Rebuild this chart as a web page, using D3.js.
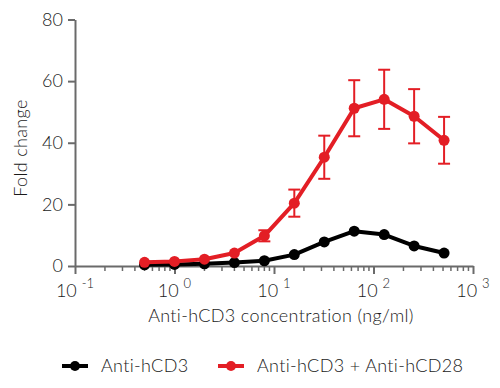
<!DOCTYPE html>
<html lang="en">
<head>
    <meta charset="UTF-8">
    <title>Fold change vs anti-hCD3</title>
    <script src="https://d3js.org/d3.v7.min.js"></script>
    <style>
        body { margin: 0; background: #fff; }
        svg text { font-family: Lato, "Open Sans", sans-serif; font-weight: 300; fill: #1a1a1a; }
        .title, .legend-text { font-size: 18px; letter-spacing: 0.35px; }
    </style>
</head>
<body>
<div id="chart"></div>

<script>
    // Concentrations (ng/ml) and measured fold change
    const concentrations = [0.5, 1, 2, 4, 8, 16, 32, 64, 128, 256, 512];
    const cd3Values = [0.4, 0.5, 0.7, 1.1, 1.7, 3.7, 7.8, 11.3, 10.2, 6.5, 4.2];
    const cd3cd28Values = [1.2, 1.5, 2.2, 4.2, 9.8, 20.4, 35.3, 51.2, 54.1, 48.6, 40.8];
    const cd3cd28Err = [0, 0, 0, 0, 1.8, 4.4, 7.0, 9.1, 9.6, 8.8, 7.6];
    const seriesNames = ["Anti-hCD3", "Anti-hCD3 + Anti-hCD28"];
    const yTicks = [0, 20, 40, 60, 80];
    const xExponents = [-1, 0, 1, 2, 3];

    const width = 500;
    const height = 388;
    const red = "#e31e25";
    const axisColor = "#6a6a6a";

    const svg = d3.select("#chart").append("svg")
        .attr("width", width)
        .attr("height", height);

    // Scales
    const x = d3.scaleLog().domain([0.1, 1000]).range([75, 473]);
    const y = d3.scaleLinear().domain([0, 80]).range([266, 19.5]);

    // Y axis
    const yAxis = svg.append("g")
        .attr("transform", "translate(75,0)")
        .call(d3.axisLeft(y).tickValues(yTicks).tickSize(7).tickPadding(5).tickSizeOuter(0));
    yAxis.select(".domain").attr("stroke", axisColor).attr("stroke-width", 2);
    yAxis.selectAll(".tick line").attr("stroke", axisColor).attr("stroke-width", 2);
    yAxis.selectAll(".tick text").style("font-size", "18px").attr("fill", "#1a1a1a");

    // X axis: major and minor ticks
    const minor = [];
    for (let e = -1; e < 3; e++) {
        for (let m = 2; m <= 9; m++) minor.push(m * Math.pow(10, e));
    }
    const xAxis = svg.append("g")
        .attr("transform", "translate(0,266)")
        .call(d3.axisBottom(x).tickValues(xExponents.map(e => Math.pow(10, e)))
            .tickSize(8).tickFormat("").tickSizeOuter(0));
    xAxis.select(".domain").attr("stroke", axisColor).attr("stroke-width", 2);
    xAxis.selectAll(".tick line").attr("stroke", axisColor).attr("stroke-width", 2);

    svg.append("g")
        .selectAll("line")
        .data(minor)
        .enter().append("line")
        .attr("x1", d => x(d)).attr("x2", d => x(d))
        .attr("y1", 266).attr("y2", 271)
        .attr("stroke", axisColor)
        .attr("stroke-width", 1.5);

    // Power-of-ten labels
    const labels = svg.append("g")
        .selectAll("text")
        .data(xExponents)
        .enter().append("text")
        .attr("x", d => x(Math.pow(10, d)))
        .attr("y", 297)
        .attr("text-anchor", "middle")
        .style("font-size", "18px");
    labels.append("tspan").text("10 ");
    labels.append("tspan")
        .attr("dy", -9)
        .style("font-size", "13px")
        .text(d => d);

    // Axis titles
    svg.append("text")
        .attr("class", "title")
        .attr("x", 281)
        .attr("y", 322)
        .attr("text-anchor", "middle")
        .text("Anti-hCD3 concentration (ng/ml)");

    svg.append("text")
        .attr("class", "title")
        .attr("transform", "translate(27,148) rotate(-90)")
        .attr("text-anchor", "middle")
        .text("Fold change");

    // Lines
    const line = d3.line()
        .x(d => x(d[0]))
        .y(d => y(d[1]));

    const cd3 = concentrations.map((c, i) => [c, cd3Values[i]]);
    const cd3cd28 = concentrations.map((c, i) => [c, cd3cd28Values[i], cd3cd28Err[i]]);

    svg.append("path")
        .datum(cd3)
        .attr("d", line)
        .attr("fill", "none")
        .attr("stroke", "#000")
        .attr("stroke-width", 4)
        .attr("stroke-linejoin", "round");

    svg.append("g")
        .selectAll("circle")
        .data(cd3)
        .enter().append("circle")
        .attr("cx", d => x(d[0]))
        .attr("cy", d => y(d[1]))
        .attr("r", 5.5)
        .attr("fill", "#000");

    // Error bars for the red series
    const err = svg.append("g")
        .selectAll("g")
        .data(cd3cd28.filter(d => d[2] > 0))
        .enter().append("g")
        .attr("stroke", red)
        .attr("stroke-width", 2);
    err.append("line")
        .attr("x1", d => x(d[0])).attr("x2", d => x(d[0]))
        .attr("y1", d => y(d[1] + d[2])).attr("y2", d => y(d[1] - d[2]));
    err.append("line")
        .attr("x1", d => x(d[0]) - 6).attr("x2", d => x(d[0]) + 6)
        .attr("y1", d => y(d[1] + d[2])).attr("y2", d => y(d[1] + d[2]));
    err.append("line")
        .attr("x1", d => x(d[0]) - 6).attr("x2", d => x(d[0]) + 6)
        .attr("y1", d => y(d[1] - d[2])).attr("y2", d => y(d[1] - d[2]));

    svg.append("path")
        .datum(cd3cd28)
        .attr("d", line)
        .attr("fill", "none")
        .attr("stroke", red)
        .attr("stroke-width", 4)
        .attr("stroke-linejoin", "round");

    svg.append("g")
        .selectAll("circle")
        .data(cd3cd28)
        .enter().append("circle")
        .attr("cx", d => x(d[0]))
        .attr("cy", d => y(d[1]))
        .attr("r", 5.5)
        .attr("fill", red);

    // Legend
    const legend = svg.append("g")
        .selectAll("g")
        .data(seriesNames)
        .enter().append("g")
        .attr("transform", (d, i) => `translate(${i === 0 ? 62 : 218},366)`);
    legend.append("line")
        .attr("x1", 0).attr("x2", 26)
        .attr("stroke", (d, i) => i === 0 ? "#000" : red)
        .attr("stroke-width", 4);
    legend.append("circle")
        .attr("cx", 13)
        .attr("r", 5)
        .attr("fill", (d, i) => i === 0 ? "#000" : red);
    legend.append("text")
        .attr("class", "legend-text")
        .attr("x", 39)
        .attr("y", 6)
        .text(d => d);
</script>
</body>
</html>
